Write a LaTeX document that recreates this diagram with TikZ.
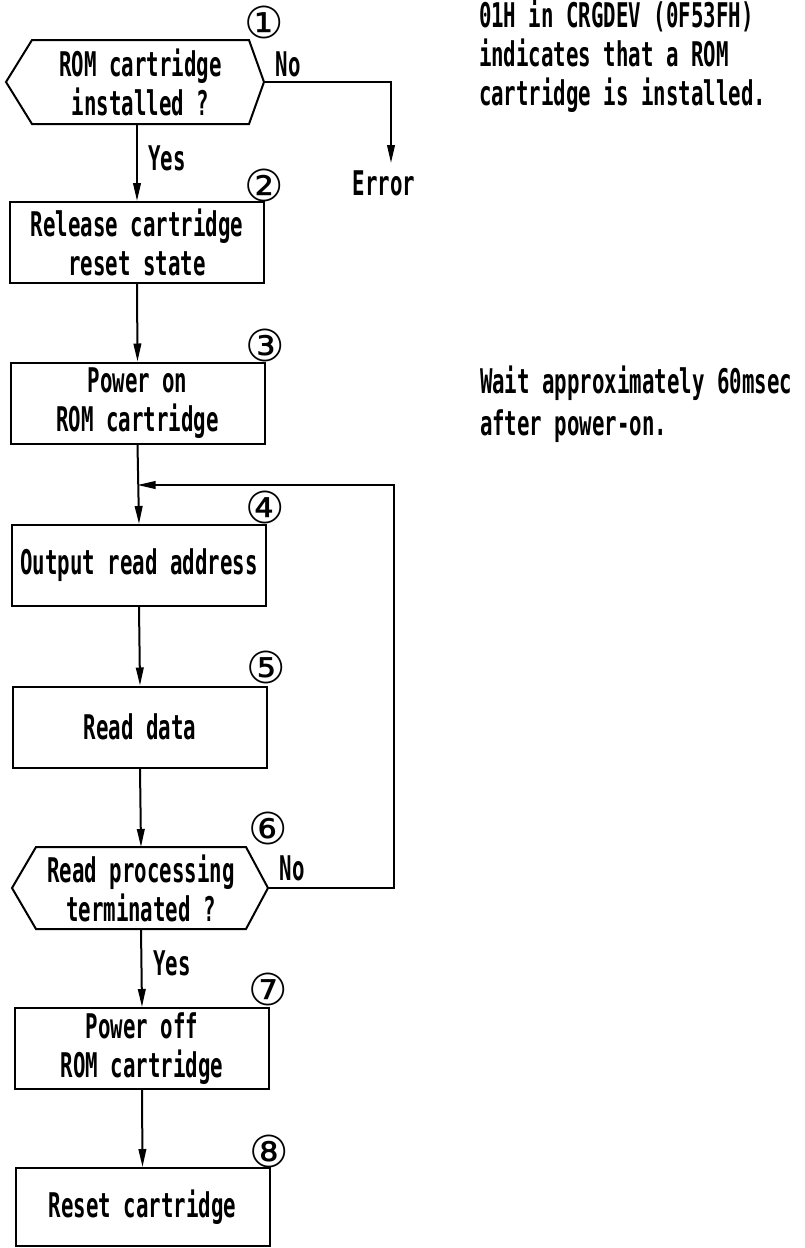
\documentclass[tikz,border=0pt]{standalone}
\usepackage{fontspec}
\newfontfamily\chartfont[FakeStretch=0.61]{DejaVu Sans Mono}
\newfontfamily\circfont{DejaVu Sans}
\usetikzlibrary{arrows.meta}

\begin{document}
\begin{tikzpicture}[x=0.5pt, y=-0.5pt, line width=1pt,
  every node/.style={font=\chartfont\bfseries\fontsize{17}{19.5}\selectfont, inner sep=0pt},
  stepbox/.style={draw, minimum width=127pt, minimum height=40.5pt, align=center},
  decision/.style={minimum height=41pt, align=center},
  numlabel/.style={font=\circfont\fontsize{22}{24}\selectfont},
  note/.style={anchor=west, align=left},
  flow/.style={-{Triangle[length=9pt, width=3.8pt]}}]

\useasboundingbox (0,0) rectangle (804,1248);

% decision 1: cartridge present?
\node[decision, minimum width=107.5pt] (d1) at (140.5,82) {ROM cartridge\\installed ?};
\draw (d1.north west) -- (d1.north east) -- ([xshift=7.5pt]d1.east) coordinate (d1r)
  -- (d1.south east) -- (d1.south west) -- ([xshift=-13pt]d1.west) -- cycle;

% process steps
\node[stepbox] (b2) at (137,242.5) {Release cartridge\\reset state};
\node[stepbox] (b3) at (137.5,403) {Power on\\ROM cartridge};
\node[stepbox] (b4) at (139,565.5) {Output read address};
\node[stepbox] (b5) at (140,727) {Read data};

% decision 6: finished reading?
\node[decision, minimum width=104pt, minimum height=40pt] (d6) at (141,888) {Read processing\\terminated ?};
\draw (d6.north west) -- (d6.north east) -- ([xshift=11pt]d6.east) coordinate (d6r)
  -- (d6.south east) -- (d6.south west) -- ([xshift=-12pt]d6.west) -- cycle;

\node[stepbox] (b7) at (142,1048.5) {Power off\\ROM cartridge};
\node[stepbox, minimum height=39pt] (b8) at (142.5,1207) {Reset cartridge};

% step numbers
\node[numlabel] (c1) at (264,22) {①};
\node[numlabel] (c2) at (264,185) {②};
\node[numlabel] (c3) at (265,345) {③};
\node[numlabel] (c4) at (265,507) {④};
\node[numlabel] (c5) at (266,667) {⑤};
\node[numlabel] (c6) at (268,828) {⑥};
\node[numlabel] (c7) at (268,989) {⑦};
\node[numlabel] (c8) at (269,1151) {⑧};

% branch labels
\node (yes1) at (167,158) {Yes};
\node (no1) at (288,64) {No};
\node (yes6) at (172,963) {Yes};
\node (no6) at (292,868) {No};
\node (err) at (384,183) {Error};

% side notes
\node[note] (note1) at (478,56) {01H in CRGDEV (0F53FH)\\indicates that a ROM\\cartridge is installed.};
\node[note, font=\chartfont\bfseries\fontsize{17}{21}\selectfont] (note3) at (479,404) {Wait approximately 60msec\\after power-on.};

% connectors
\coordinate (errtip) at (391,163);
\coordinate (loopc) at (394,485);
\draw[flow] (d1.south -| b2.north) -- (b2.north);
\draw[flow] (d1r) -| (errtip);
\draw[flow] (b2.south) -- (b3.north);
\draw[flow] (b3.south) -- (b4.north);
\draw[flow] (d6r) -| (loopc) -- (b3.south |- loopc);
\draw[flow] (b4.south) -- (b5.north);
\draw[flow] (b5.south) -- (d6.north);
\draw[flow] (d6.south) -- (b7.north);
\draw[flow] (b7.south) -- (b8.north);
\end{tikzpicture}
\end{document}
